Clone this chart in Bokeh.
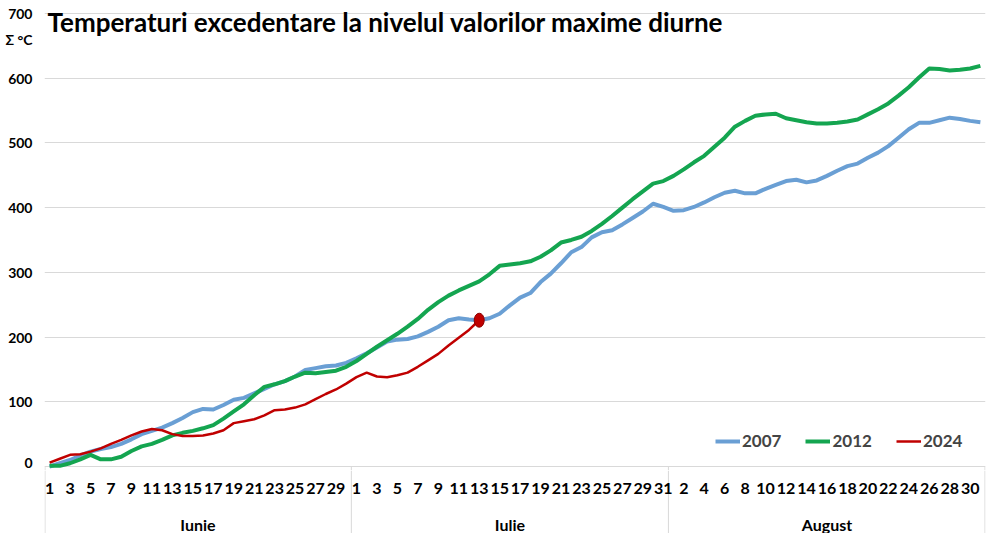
from bokeh.plotting import figure
from bokeh.layouts import column
from bokeh.models import (LinearAxis, FixedTicker, Range1d, Label, Legend,
                          LegendItem, Grid)
from bokeh.core.properties import value
from bokeh.embed import file_html
from bokeh.resources import INLINE

# ---------------- data ----------------
title_text = "Temperaturi excedentare  la nivelul valorilor maxime diurne"
y_unit = "Σ °C"
months = ["Iunie", "Iulie", "August"]
month_days = [30, 31, 31]
# which day numbers are labelled on the axis in each month
labelled_days = [list(range(1, 31, 2)), list(range(1, 32, 2)), list(range(2, 31, 2))]
y_ticks = [0, 100, 200, 300, 400, 500, 600, 700]
series_names = ["2007", "2012", "2024"]

s2007 = [0, 5, 10, 17, 23, 27, 30, 35, 42, 50, 55, 60, 67, 75, 84, 89, 88, 95, 103, 106,
         113, 120, 127, 132, 139, 149, 152, 155, 156, 160,
         167, 175, 184, 193, 196, 197, 201, 208, 216, 226, 229, 227, 226, 229, 236, 249,
         261, 268, 285, 298, 314, 331, 339, 354, 362, 365, 374, 384, 394, 406, 401,
         395, 396, 401, 408, 416, 423, 426, 422, 422, 429, 435, 441, 443, 439, 442, 449,
         457, 464, 468, 477, 485, 495, 508, 521, 531, 531, 535, 539, 537, 534, 532]
s2012 = [1, 1, 5, 11, 18, 11, 11, 15, 24, 31, 35, 41, 48, 52, 55, 59, 64, 74, 85, 96,
         110, 123, 127, 132, 139, 145, 144, 146, 148, 154,
         163, 174, 185, 195, 205, 216, 228, 242, 254, 264, 272, 279, 286, 297, 310, 312,
         314, 317, 324, 334, 346, 350, 355, 364, 375, 387, 400, 413, 425, 437, 441,
         449, 459, 470, 480, 494, 508, 525, 534, 542, 544, 545, 538, 535, 532, 530, 530,
         531, 533, 536, 544, 552, 561, 573, 586, 601, 615, 614, 612, 613, 615, 619]
s2024 = [6, 12, 18, 19, 23, 28, 35, 41, 48, 54, 58, 56, 50, 47, 47, 48, 51, 56, 67, 70,
         73, 79, 87, 88, 91, 96, 104, 112, 119, 128,
         138, 145, 139, 138, 141, 145, 154, 164, 174, 187, 199, 211, 226]

colors = ["#6a9fd4", "#14a550", "#c00000"]
FONT = "Lato"
GRID = "#d9d9d9"

# ---------------- layout constants ----------------
W = 1000
H1 = 470          # main plot height (frame spans the full height)
H2 = 63           # category-axis strip height
LEFT, RIGHT = 44, 15
Y_TOP, Y_BOTTOM = 720, -6.2   # headroom so 700 sits 13px below the top, 0 sits 4px above the strip

# ---------------- derived positions ----------------
N = sum(month_days)
x_all = list(range(1, N + 1))
day_pos, day_txt = [], []
boundaries = [0.5]
month_centres = []
start = 0
for m, nd in enumerate(month_days):
    for d in labelled_days[m]:
        day_pos.append(start + d)
        day_txt.append(str(d))
    month_centres.append(start + (nd + 1) / 2)
    start += nd
    boundaries.append(start + 0.5)
inset = 0.05
sep_x = [boundaries[0] + inset] + boundaries[1:-1] + [boundaries[-1] - inset]

xr = Range1d(0.5, N + 0.5)

# ---------------- main plot ----------------
p = figure(width=W, height=H1, x_range=xr, y_range=Range1d(Y_BOTTOM, Y_TOP),
           output_backend="svg", toolbar_location=None, x_axis_type=None, y_axis_type=None,
           min_border_left=LEFT, min_border_right=RIGHT, min_border_top=0, min_border_bottom=0)
p.outline_line_color = None

yunit_pos = 660
yaxis = LinearAxis(ticker=FixedTicker(ticks=y_ticks + [yunit_pos], minor_ticks=[]),
                   major_label_overrides={yunit_pos: y_unit},
                   axis_line_color=None, major_tick_line_color=None,
                   major_tick_out=0, major_tick_in=0, minor_tick_out=0, minor_tick_in=0,
                   minor_tick_line_color=None, major_label_standoff=12,
                   major_label_text_font=FONT, major_label_text_font_style="bold",
                   major_label_text_font_size="14px", major_label_text_color="black")
p.add_layout(yaxis, "left")
p.add_layout(Grid(dimension=1, ticker=FixedTicker(ticks=y_ticks, minor_ticks=[]),
                  grid_line_color=GRID, grid_line_width=1))
p.segment(x0=sep_x, y0=[Y_BOTTOM] * len(sep_x), x1=sep_x, y1=[0] * len(sep_x),
          line_color=GRID, line_width=1)

r1 = p.line(x_all, s2007, line_color=colors[0], line_width=4, line_join="round")
r2 = p.line(x_all, s2012, line_color=colors[1], line_width=4, line_join="round")
r3 = p.line(x_all[:len(s2024)], s2024, line_color=colors[2], line_width=2.5, line_join="round")
p.ellipse(x=[len(s2024)], y=[s2024[-1]], width=10, height=14, width_units="screen",
          height_units="screen", fill_color=colors[2], line_color="#8a0000", line_width=1)

legend = Legend(items=[LegendItem(label=series_names[0], renderers=[r1]),
                       LegendItem(label=series_names[1], renderers=[r2]),
                       LegendItem(label=series_names[2], renderers=[r3])],
                orientation="horizontal", location=(671, 19), border_line_color=None,
                background_fill_alpha=0, label_text_font=FONT, label_text_font_style="bold",
                label_text_font_size="17px", glyph_width=25, glyph_height=20,
                label_standoff=2, spacing=24, padding=0, margin=0)
p.add_layout(legend)

p.add_layout(Label(x=0.8, y=711, text=title_text, text_baseline="top", text_align="left",
                   text_font=FONT, text_font_style="bold", text_font_size="26px",
                   text_color="black"))

# ---------------- category axis strip ----------------
p2 = figure(width=W, height=H2, x_range=xr, y_range=Range1d(0, H2),
            output_backend="svg", toolbar_location=None, x_axis_type=None, y_axis_type=None,
            min_border_left=LEFT, min_border_right=RIGHT, min_border_top=0, min_border_bottom=0)
p2.outline_line_color = None

p2.segment(x0=sep_x, y0=[0] * len(sep_x), x1=sep_x, y1=[H2] * len(sep_x),
           line_color=GRID, line_width=1)
p2.text(x=day_pos, y=[H2 - 18] * len(day_pos), text=day_txt, text_align="center",
        text_baseline="middle", text_font=value(FONT), text_font_style="bold",
        text_font_size="16px", text_color="black")
p2.text(x=month_centres, y=[H2 - 54] * len(months), text=months, text_align="center",
        text_baseline="middle", text_font=value(FONT), text_font_style="bold",
        text_font_size="16px", text_color="black")

layout = column(p, p2, spacing=0)
open("out.html", "w").write(file_html(layout, INLINE))
